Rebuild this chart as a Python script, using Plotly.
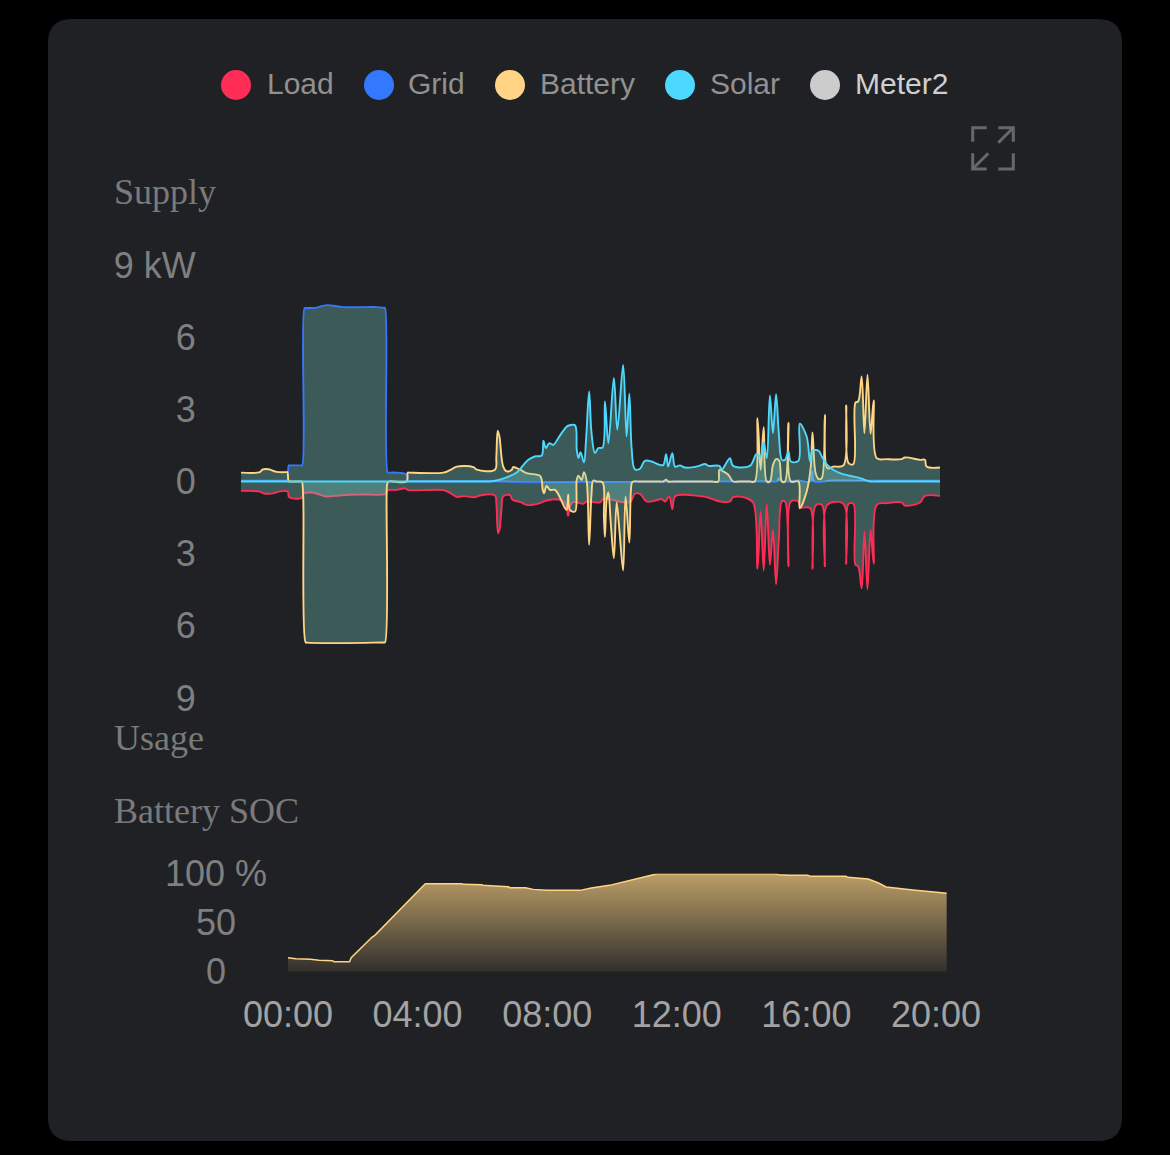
import plotly.graph_objects as go

W, H = 1170, 1155
CARD = "#202125"

# ---------- data (hours, kW) ----------
load_t = [0,.26,.55,.65,.80,.99,1.09,1.36,1.40,1.77,1.83,2.06,2.22,2.44,2.59,2.88,3.17,3.56,4.22,4.27,4.53,4.77,4.87,5.01,5.89,6.08,6.28,6.47,6.81,6.95,7.39,7.43,7.48,7.52,7.58,7.63,7.83,7.90,8.12,8.31,8.46,8.70,8.89,9.28,9.43,9.48,9.52,9.57,9.67,9.96,
          10.06,10.45,10.54,11.32,11.46,11.61,11.80,12.09,12.24,12.34,12.46,12.55,12.63,12.92,13.31,13.55,13.94,14.23,14.32,14.71,14.91,15.03,15.12,15.21,15.30,15.39,15.48,15.57,15.65,15.74,15.83,15.93,16.00,16.22,16.28,16.56,16.63,16.72,16.90,16.99,17.06,17.53,17.61,17.68,17.82,17.88,17.96,18.06,18.14,18.23,18.32,18.41,18.50,18.79,19.22,19.32,19.76,19.90,20.34]
load_v = [-.39,-.39,-.42,-.49,-.51,-.47,-.42,-.42,-.65,-.68,-.49,-.46,-.51,-.62,-.62,-.58,-.55,-.54,-.51,-.36,-.35,-.28,-.36,-.37,-.36,-.47,-.64,-.61,-.65,-.58,-.58,-.90,-2.15,-2.01,-1.18,-.62,-.57,-.76,-.85,-.97,-.98,-.90,-.79,-.76,-.90,-1.11,-1.43,-1.04,-.85,-.93,
          -.83,-.87,-.72,-.86,-.51,-.51,-.83,-.78,-.73,-.83,-.62,-1.15,-.62,-.55,-.60,-.65,-.83,-.83,-.65,-.69,-.90,-3.63,-1.25,-3.70,-.93,-3.46,-2.01,-4.27,-2.43,-.83,-.83,-3.53,-.83,-.83,-1.07,-1.11,-3.63,-1.00,-.97,-3.53,-.97,-.93,-3.42,-.93,-.93,-3.46,-3.53,-4.44,-2.08,-4.48,-2.01,-3.42,-.97,-.90,-.87,-1.00,-.87,-.60,-.60]

grid_t = [0,1.33,1.35,1.39,1.42,1.74,1.78,1.85,1.89,2.20,2.49,2.98,3.95,4.16,4.19,4.27,4.31,4.63,4.82,4.85,4.88,6.0,7.25,8.41,10.15,13.0,15.4,15.59,15.65,15.74,16.22,16.56,16.62,16.68,17.23,18.8,20.34]
grid_v = [.03,.03,.03,.67,.67,.67,.67,7.21,7.21,7.23,7.33,7.25,7.25,7.22,7.22,.37,.37,.36,.28,.01,.01,.01,.01,-.03,-.02,-.01,0,0,.14,0,.04,0,.42,0,.04,.03,.03]

battery_t = [0,.55,.62,.80,1.04,1.33,1.35,1.39,1.42,1.74,1.77,1.81,1.88,1.92,2.59,4.15,4.19,4.24,4.26,4.30,4.82,4.85,4.88,5.89,6.08,6.28,6.76,6.86,7.39,7.43,7.47,7.52,7.63,7.73,7.88,7.92,8.12,8.31,8.70,8.75,8.78,8.82,8.89,8.99,9.14,9.43,9.48,9.52,9.57,9.72,9.77,9.82,9.91,
             9.98,10.06,10.13,10.20,10.25,10.35,10.52,10.56,10.59,10.64,10.69,10.76,10.85,10.93,11.01,11.12,11.19,11.30,11.37,11.41,11.6,12.2,12.29,12.37,12.43,12.6,13.7,13.89,13.92,14.03,14.18,14.32,14.5,14.8,14.95,15.03,15.12,15.21,15.30,15.39,15.48,15.57,15.66,15.74,15.83,15.93,16.00,16.22,16.26,16.46,16.58,16.63,16.72,16.81,16.90,16.99,17.06,17.23,17.53,17.61,17.68,17.82,17.88,17.96,18.06,18.14,18.23,18.32,18.41,18.50,18.79,19.22,19.32,19.76,19.90,19.95,20.34]
battery_v = [.37,.39,.49,.51,.40,.39,.39,0,0,0,0,-.62,-6.69,-6.70,-6.72,-6.69,-6.69,-.35,-.07,0,0,.37,.37,.37,.47,.62,.60,.49,.49,1.04,2.11,1.87,.62,.42,.49,.60,.49,.35,.24,.07,-.35,-.49,-.18,-.35,-.35,-1.11,-1.18,-.55,-1.18,-1.25,.07,.24,.07,
             .39,0,-2.63,-.49,.04,0,-.04,-1.46,-2.31,-.76,-.46,-1.73,-3.19,-.87,-2.01,-3.70,-.62,-2.54,-.07,0,0,0,0,.08,0,0,0,0,.49,.42,.28,0,0,0,0,2.63,.49,2.26,0,0,.69,.93,.87,0,0,2.43,0,0,-1.11,-.42,.62,2.04,.35,.10,.14,2.77,.55,.62,.67,3.16,.76,.73,3.28,3.33,4.37,2.01,4.44,1.98,3.37,.97,.93,.93,1.00,.90,.90,.62,.58]

solar_t = [0,3.5,7.1,7.25,7.44,7.73,8.02,8.22,8.36,8.55,8.75,8.80,8.87,8.97,9.09,9.23,9.48,9.57,9.72,9.77,9.82,9.88,9.98,10.04,10.13,
           10.20,10.30,10.40,10.52,10.59,10.69,10.85,10.95,11.12,11.22,11.30,11.37,11.46,11.61,11.75,11.95,12.19,12.29,12.37,12.43,12.55,12.63,12.77,12.92,13.31,13.50,13.60,13.92,13.99,14.13,14.23,14.32,14.81,15.00,15.12,15.21,15.30,15.39,15.48,15.57,15.65,15.74,15.83,15.93,16.00,16.22,16.26,16.46,16.56,16.63,16.81,16.90,17.06,17.23,17.43,17.72,18.01,18.30,18.5,19.5,20.34]
solar_v = [0,0,0,0,.04,.17,.37,.69,.90,1.04,1.08,1.70,1.39,1.59,1.52,1.80,2.29,2.34,2.34,1.32,.97,1.22,.79,1.73,3.74,
           2.01,1.18,1.39,1.41,3.33,1.59,4.30,2.15,4.85,1.87,3.65,1.32,.51,.53,.86,.83,.69,.69,1.14,.62,1.18,.62,.67,.58,.64,.73,.65,.65,.49,.79,.97,.65,.65,1.14,1.04,1.62,.97,3.58,2.01,3.63,2.01,.90,.90,1.25,.83,.86,2.40,1.87,.83,1.28,1.28,1.04,.69,.49,.35,.24,.14,0,0,0,0]

soc_t = [0,.24,.69,.96,1.37,1.42,1.90,1.95,2.59,2.68,4.13,4.24,5.37,5.40,5.99,6.02,6.38,6.81,6.83,7.33,7.57,7.99,9.02,9.36,9.92,10.33,10.88,11.29,11.40,15.06,15.15,15.49,16.05,16.12,17.22,17.28,17.91,18.21,18.46,19.29,19.84,20.33]
soc_v = [14.3,13.3,12.6,11.6,11.3,10.2,10.2,14.3,35.1,37.1,86.1,89.8,89.8,89.2,88.8,88.1,87.5,86.8,85.7,85.7,84.0,83.0,83.0,85.4,88.1,91.5,95.9,99.4,100,100,99.0,98.3,98.3,97.3,97.3,96.3,94.6,90.8,86.4,83.4,81.3,80.0]

power_ticks = [9,6,3,0,-3,-6,-9]
power_labels = ["9 kW","6","3","0","3","6","9"]
time_ticks = [0,4,8,12,16,20]
time_labels = ["00:00","04:00","08:00","12:00","16:00","20:00"]
soc_ticks = [100,50,0]
soc_labels = ["100 %","50","0"]
legend_names = ["Load","Grid","Battery","Solar","Meter2"]
legend_colors = ["#ff2d55","#3478ff","#ffd484","#4cd8ff","#cccccc"]

# ---------- layout helpers ----------
def px(x): return x / W
def py(y): return 1 - y / H

def path(pts, close=False):
    s = "M " + " L ".join(f"{px(x):.5f} {py(y):.5f}" for x, y in pts)
    return s + (" Z" if close else "")

FILL = "rgba(125,223,207,0.3)"
fig = go.Figure()
series = [("Load", load_t, load_v, legend_colors[0]),
          ("Grid", grid_t, grid_v, legend_colors[1]),
          ("Battery", battery_t, battery_v, legend_colors[2]),
          ("Solar", solar_t, solar_v, legend_colors[3])]
for name, t, v, c in series:
    fig.add_trace(go.Scatter(x=t, y=v, name=name, mode="lines", fill="tozeroy", fillcolor=FILL,
                             line=dict(color=c, width=1.9, shape="spline", smoothing=1.0),
                             xaxis="x", yaxis="y", showlegend=False))

fig.add_trace(go.Scatter(x=soc_t, y=soc_v, name="Battery SOC", mode="lines", fill="tozeroy",
                         line=dict(color="#ffd484", width=1.5),
                         fillgradient=dict(type="vertical",
                                           colorscale=[[0, "rgba(255,212,132,0.08)"], [1, "rgba(255,212,132,0.7)"]]),
                         xaxis="x2", yaxis="y2", showlegend=False))

shapes = []
# card
L, T, R, B, r = 48, 19, 1122, 1141, 24
def P(x, y): return f"{px(x):.5f} {py(y):.5f}"
shapes.append(dict(type="path", xref="paper", yref="paper", layer="below", line=dict(width=0), fillcolor=CARD,
    path=f"M {P(L+r,T)} L {P(R-r,T)} Q {P(R,T)} {P(R,T+r)} L {P(R,B-r)} Q {P(R,B)} {P(R-r,B)} "
         f"L {P(L+r,B)} Q {P(L,B)} {P(L,B-r)} L {P(L,T+r)} Q {P(L,T)} {P(L+r,T)} Z"))
# expand icon
for pts in [[(972.7,141.7),(972.7,127.7),(986.7,127.7)],
            [(998.3,127.7),(1013.3,127.7),(1013.3,141.7)],
            [(998.3,142.7),(1012.7,128.3)],
            [(972.7,153.3),(972.7,169),(986.7,169)],
            [(988.3,153.3),(973.3,168.3)],
            [(998.3,169),(1013.3,169),(1013.3,153.3)]]:
    shapes.append(dict(type="path", xref="paper", yref="paper", path=path(pts),
                       line=dict(color="#66686b", width=3)))

annotations = []
def text(x, y, s, size, color, family="Liberation Sans", anchor="left", yref="paper"):
    annotations.append(dict(x=x, y=y, text=s, xref="paper", yref=yref, showarrow=False, xanchor=anchor,
                            yanchor="middle", font=dict(size=size, color=color, family=family), align=anchor))

# legend
for name, c, cx, tx in zip(legend_names, legend_colors, [236,379,510,680,825], [265,406,538,708,853]):
    shapes.append(dict(type="circle", xref="paper", yref="paper", x0=px(cx-15), x1=px(cx+15),
                       y0=py(85+15), y1=py(85-15), fillcolor=c, line=dict(width=0)))
    text(px(tx), py(83.6), name, 30, "#cfcfcf" if name == "Meter2" else "#919191")

# section titles
for s, y in [("Supply",192),("Usage",738),("Battery SOC",811)]:
    text(px(112), py(y), s, 36, "#7a7a7a", family="Liberation Serif")
# SOC tick labels, centred as in the reference
for v, s in zip(soc_ticks, soc_labels):
    text(px(216), v, s, 36, "#7f7f7f", anchor="center", yref="y2")

fig.update_layout(
    width=W, height=H, margin=dict(l=0, r=0, t=0, b=0, pad=0, autoexpand=False), paper_bgcolor="#000000", plot_bgcolor="rgba(0,0,0,0)",
    showlegend=False, shapes=shapes, annotations=annotations,
    xaxis=dict(domain=[px(241), px(940)], range=[0, 20.34], visible=False, anchor="y", automargin=False),
    yaxis=dict(domain=[py(698), py(265)], range=[-9, 9], tickvals=power_ticks, ticktext=power_labels, automargin=False,
               showgrid=False, zeroline=False, showline=False, ticks="outside", ticklen=37,
               tickcolor="rgba(0,0,0,0)", tickfont=dict(size=36, color="#7f7f7f", family="Liberation Sans"), anchor="x"),
    xaxis2=dict(domain=[px(288), px(947)], range=[0, 20.34], tickvals=time_ticks, ticktext=time_labels, automargin=False,
                showgrid=False, zeroline=False, showline=False, ticks="outside", ticklen=11,
                tickcolor="rgba(0,0,0,0)", tickfont=dict(size=36, color="#a3a3a3", family="Liberation Sans"), anchor="y2"),
    yaxis2=dict(domain=[py(971.7), py(873.7)], range=[0, 100], showticklabels=False, showgrid=False, automargin=False,
                zeroline=False, showline=False, anchor="x2"),
)
fig.write_html("out.html", config={"displayModeBar": False},
               post_script="document.body.style.margin='0';document.body.style.background='#000';document.documentElement.style.overflow='hidden';")
